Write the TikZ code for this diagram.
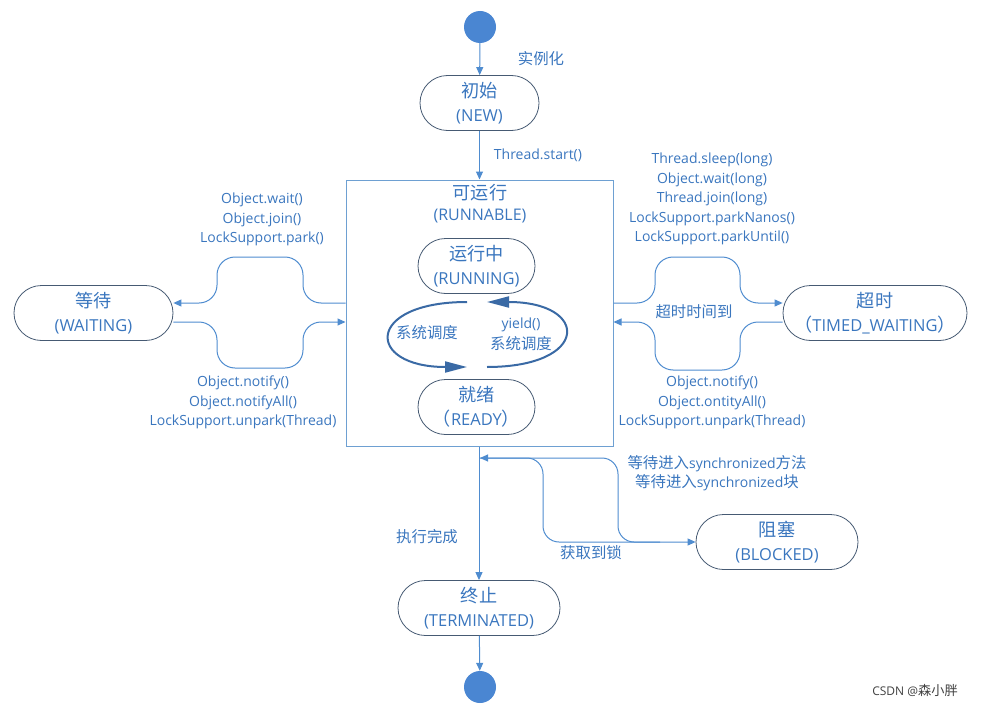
\documentclass[tikz,border=0pt]{standalone}
\usepackage{fontspec}
\setmainfont{Open Sans}
\newfontfamily\cjk[Scale=1.1]{Noto Sans CJK SC}
\usetikzlibrary{arrows.meta}
\definecolor{txt}{RGB}{58,118,190}
\definecolor{lc}{RGB}{79,140,207}
\definecolor{nodeb}{RGB}{70,90,115}
\definecolor{cfill}{RGB}{74,134,210}
\definecolor{boxb}{RGB}{110,160,210}
\definecolor{cyc}{RGB}{58,106,165}
\tikzset{
  state/.style={draw=nodeb, line width=0.8pt, rounded corners=27.5pt, minimum height=55pt, text=txt,
    font=\fontsize{16.5}{24}\selectfont, align=center, inner sep=0pt},
  lab/.style={text=txt, font=\fontsize{14}{19.5}\selectfont, align=center, inner sep=0pt},
  conn/.style={draw=lc, line width=1pt, -{Triangle[length=8pt,width=7pt]}},
  cycarrow/.style={draw=cyc, line width=2pt, -{Triangle[length=22pt,width=11pt]}},
  dot/.style={circle, fill=cfill, minimum size=32pt, inner sep=0pt},
}
\begin{document}
\begin{tikzpicture}[x=1pt,y=-1pt]
\useasboundingbox (0,0) rectangle (982,706);
% runnable box
\node[draw=boxb, line width=1pt, minimum width=267pt, minimum height=266pt, inner sep=0pt] (rbox) at (479.5,313) {};
\node[lab, font=\fontsize{16.5}{20}\selectfont] (rt1) at (480,193) {\cjk 可运行};
\node[lab, font=\fontsize{16}{20}\selectfont] (rt2) at (480,216) {(RUNNABLE)};
% states
\node[dot] (start) at (480,27) {};
\node[state, minimum width=119pt] (new) at (479.5,103) {{\cjk 初始}\\(NEW)};
\node[state, minimum width=117pt] (running) at (476.5,266) {{\cjk 运行中}\\(RUNNING)};
\node[state, minimum width=117pt] (ready) at (476.5,407) {{\cjk 就绪}\\{\cjk （}READY{\cjk ）}};
\node[state, minimum width=159pt] (wait) at (93.5,313) {{\cjk 等待}\\(WAITING)};
\node[state, minimum width=184pt] (timed) at (875,313) {{\cjk 超时}\\{\cjk （}TIMED\_WAITING{\cjk ）}};
\node[state, minimum width=162pt] (term) at (479,608) {{\cjk 终止}\\(TERMINATED)};
\node[state, minimum width=162pt] (block) at (777,542) {{\cjk 阻塞}\\(BLOCKED)};
\node[dot] (end) at (480,687) {};
% main vertical connectors
\draw[conn] (start) -- (new);
\draw[conn] (new) -- (rbox.north -| new);
\draw[conn] (rbox.south -| term) -- (term);
\draw[conn] (term) -- (end);
% cycle inside runnable
\coordinate (c1) at (467,302);
\coordinate (c2) at (467,367);
\coordinate (c3) at (487,367);
\coordinate (c4) at (487,302);
\draw[cycarrow] (c1) .. controls (365,302) and (365,367) .. (c2);
\draw[cycarrow] (c3) .. controls (590,367) and (590,302) .. (c4);
% waiting connectors
\draw[conn, rounded corners=18pt] ([yshift=10pt]rbox.west) -- (303,303) -- (303,257) -- (217,257) -- (217,303) -- ([yshift=10pt]wait.east);
\draw[conn, rounded corners=18pt] ([yshift=-9pt]wait.east) -- (217,322) -- (217,368) -- (303,368) -- (303,322) -- ([yshift=-9pt]rbox.west);
% timed connectors
\draw[conn, rounded corners=18pt] ([yshift=10pt]rbox.east) -- (655,303) -- (655,257) -- (740,257) -- (740,303) -- ([yshift=10pt]timed.west);
\draw[conn, rounded corners=18pt] ([yshift=-9pt]timed.west) -- (740,322) -- (740,370) -- (655,370) -- (655,322) -- ([yshift=-9pt]rbox.east);
% blocked connectors
\coordinate (j) at (480,458);
\coordinate (bs) at (660,542);
\draw[conn, rounded corners=16pt] (j) -- (543,458) -- (543,542) -- (block.west);
\draw[conn, rounded corners=16pt] (bs) -- (618,542) -- (618,458) -- (j);
% labels
\node[lab] (l1) at (541,59) {\cjk 实例化};
\node[lab] (l2) at (538,155) {Thread.start()};
\node[lab] (l3) at (262,219.5) {Object.wait()\\Object.join()\\LockSupport.park()};
\node[lab] (l4) at (243,402.5) {Object.notify()\\Object.notifyAll()\\LockSupport.unpark(Thread)};
\node[lab] (l5) at (712,199) {Thread.sleep(long)\\Object.wait(long)\\Thread.join(long)\\LockSupport.parkNanos()\\LockSupport.parkUntil()};
\node[lab] (l6) at (712,402.5) {Object.notify()\\Object.ontityAll()\\LockSupport.unpark(Thread)};
\node[lab] (l7) at (694,312) {\cjk 超时时间到};
\node[lab] (l8) at (427,333) {\cjk 系统调度};
\node[lab, font=\fontsize{14}{21}\selectfont] (l9) at (521,334.5) {yield()\\{\cjk 系统调度}};
\node[lab] (l10) at (427,537) {\cjk 执行完成};
\node[lab] (l11) at (591,553) {\cjk 获取到锁};
\node[lab] (l12) at (717,473) {{\cjk 等待进入}synchronized{\cjk 方法}\\{\cjk 等待进入}synchronized{\cjk 块}};
\node[lab, text=black!75, font=\fontsize{12}{14}\selectfont] (wm) at (915,690) {CSDN @{\cjk 森小胖}};
\end{tikzpicture}
\end{document}
